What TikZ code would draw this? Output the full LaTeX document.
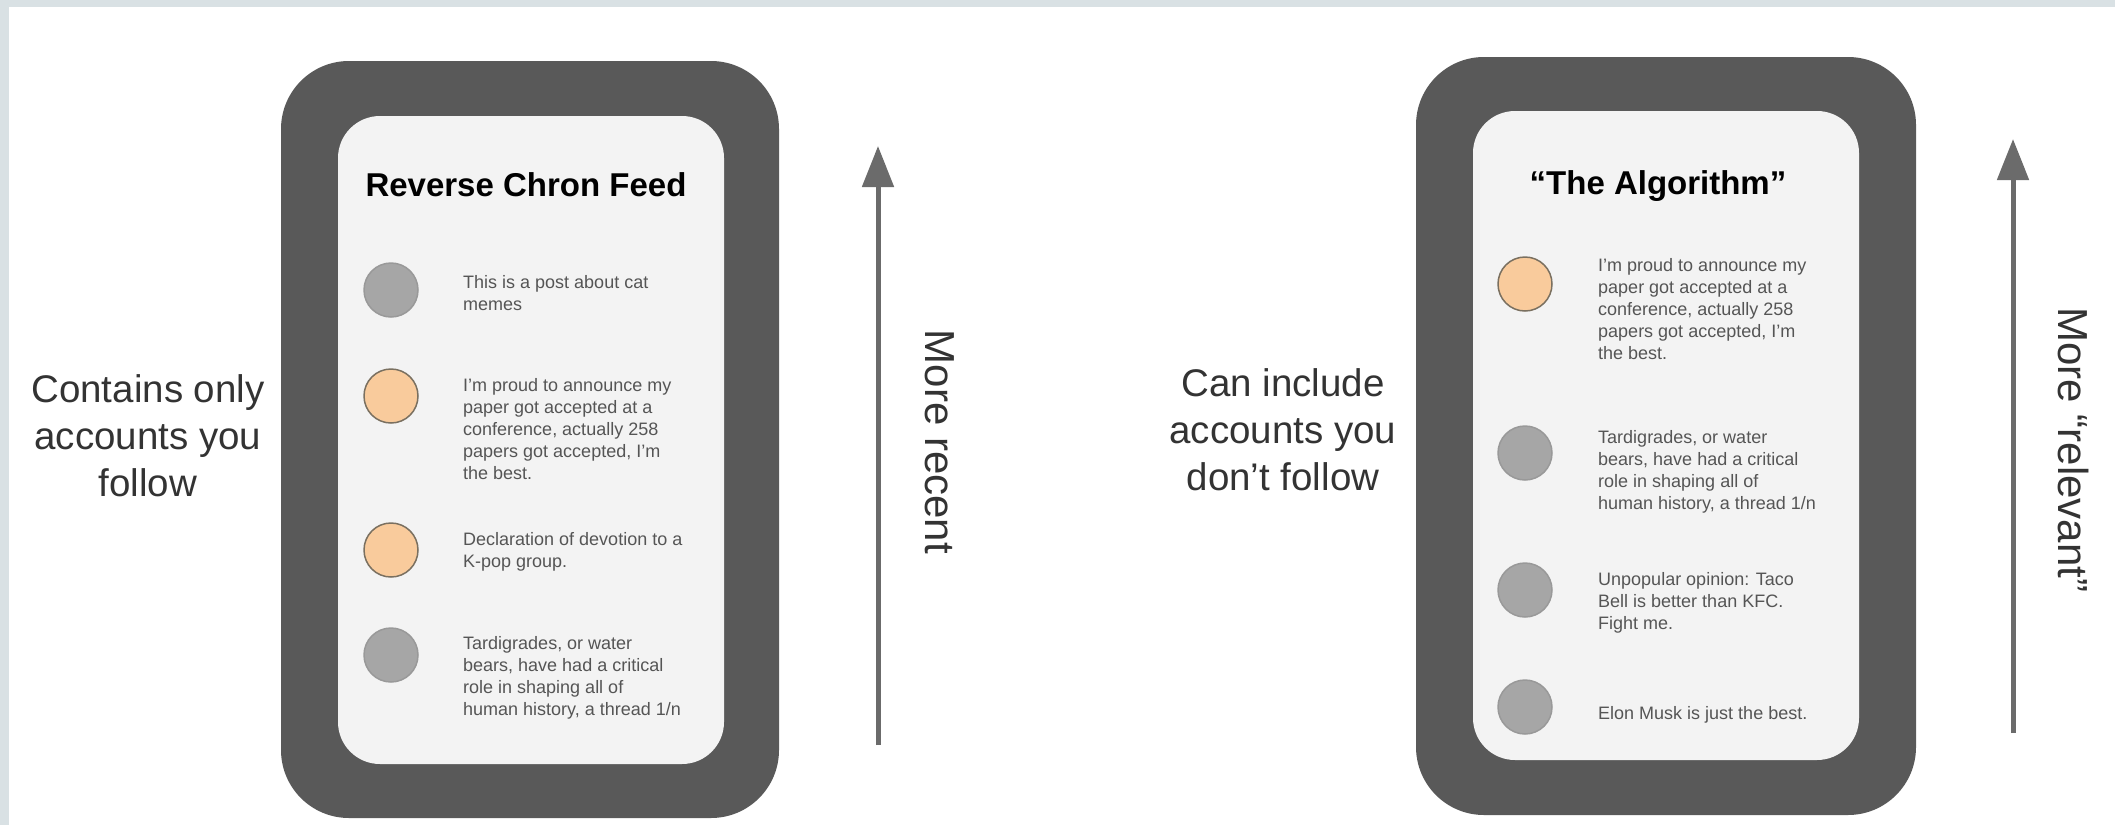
\documentclass[tikz,border=0pt]{standalone}
\usepackage{fontspec}
\setmainfont{Liberation Sans}
\usetikzlibrary{arrows.meta}
\definecolor{bandc}{HTML}{D9E1E4}
\definecolor{framec}{HTML}{595959}
\definecolor{screenc}{HTML}{F3F3F3}
\definecolor{grayfill}{HTML}{A6A6A6}
\definecolor{grayline}{HTML}{999999}
\definecolor{orangefill}{HTML}{F9CB9C}
\definecolor{orangeline}{HTML}{7A7060}
\definecolor{postc}{HTML}{555555}
\definecolor{labelc}{HTML}{333333}
\definecolor{arrowc}{HTML}{6B6B6B}
\begin{document}
\begin{tikzpicture}[x=1pt,y=-1pt,
  phoneframe/.style={rectangle, rounded corners=68pt, fill=framec, inner sep=0pt},
  screen/.style={rectangle, rounded corners=42pt, fill=screenc, inner sep=0pt},
  feedtitle/.style={anchor=base, inner sep=0pt, font=\bfseries\fontsize{33pt}{36pt}\selectfont, text=black},
  graydot/.style={circle, minimum size=54pt, inner sep=0pt, fill=grayfill, draw=grayline, line width=1.5pt},
  orangedot/.style={circle, minimum size=54pt, inner sep=0pt, fill=orangefill, draw=orangeline, line width=1.5pt},
  post/.style={anchor=north west, inner sep=0pt, align=left, text=postc, font=\fontsize{18pt}{22pt}\selectfont},
  sidelabel/.style={anchor=north, inner sep=0pt, align=center, text=labelc, font=\fontsize{38.5pt}{47pt}\selectfont},
  axislabel/.style={rotate=-90, inner sep=0pt, text=labelc, font=\fontsize{42pt}{48pt}\selectfont},
  axisarrow/.style={draw=arrowc, line width=5pt, -{Triangle[length=41pt,width=31pt]}}
]
\useasboundingbox (0,0) rectangle (2115,825);
\fill[white] (0,0) rectangle (2115,825);
\fill[bandc] (0,0) rectangle (2115,7);
\fill[bandc] (0,0) rectangle (9,825);

% ---------- left phone ----------
\node[phoneframe, minimum width=498pt, minimum height=757pt] (p1) at (530,439.5) {};
\node[screen, minimum width=386pt, minimum height=648pt] (s1) at (531,440) {};
\node[feedtitle] (t1) at (526,196) {Reverse Chron Feed};

\node[graydot] (l1) at (391,290) {};
\node[post] (lt1) at (463,275.6) {This is a post about cat\\memes};
\node[orangedot] (l2) at (391,396) {};
\node[post] (lt2) at (463,378.6) {I'm proud to announce my\\paper got accepted at a\\conference, actually 258\\papers got accepted, I'm\\the best.};
\node[orangedot] (l3) at (391,550) {};
\node[post] (lt3) at (463,532.6) {Declaration of devotion to a\\K-pop group.};
\node[graydot] (l4) at (391,655) {};
\node[post] (lt4) at (463,636.6) {Tardigrades, or water\\bears, have had a critical\\role in shaping all of\\human history, a thread 1/n};

\node[sidelabel] (lab1) at (148,374) {Contains only\\accounts you\\follow};

\coordinate (a1b) at (878,745);
\coordinate (a1t) at (878,146);
\draw[axisarrow] (a1b) -- (a1t);
\node[axislabel] (ax1) at (940,442) {More recent};

% ---------- right phone ----------
\node[phoneframe, minimum width=500pt, minimum height=758pt] (p2) at (1666,436) {};
\node[screen, minimum width=386pt, minimum height=649pt] (s2) at (1666,435.5) {};
\node[feedtitle] (t2) at (1658,194) {“The Algorithm”};

\node[orangedot] (r1) at (1525,284) {};
\node[post] (rt1) at (1598,258.6) {I'm proud to announce my\\paper got accepted at a\\conference, actually 258\\papers got accepted, I'm\\the best.};
\node[graydot] (r2) at (1525,453) {};
\node[post] (rt2) at (1598,430.6) {Tardigrades, or water\\bears, have had a critical\\role in shaping all of\\human history, a thread 1/n};
\node[graydot] (r3) at (1525,590) {};
\node[post] (rt3) at (1598,572.6) {Unpopular opinion: Taco\\Bell is better than KFC.\\Fight me.};
\node[graydot] (r4) at (1525,707) {};
\node[post] (rt4) at (1598,706.6) {Elon Musk is just the best.};

\node[sidelabel] (lab2) at (1283,368) {Can include\\accounts you\\don’t follow};

\coordinate (a2b) at (2013,733);
\coordinate (a2t) at (2013,139);
\draw[axisarrow] (a2b) -- (a2t);
\node[axislabel] (ax2) at (2073,450) {More “relevant”};
\end{tikzpicture}
\end{document}
